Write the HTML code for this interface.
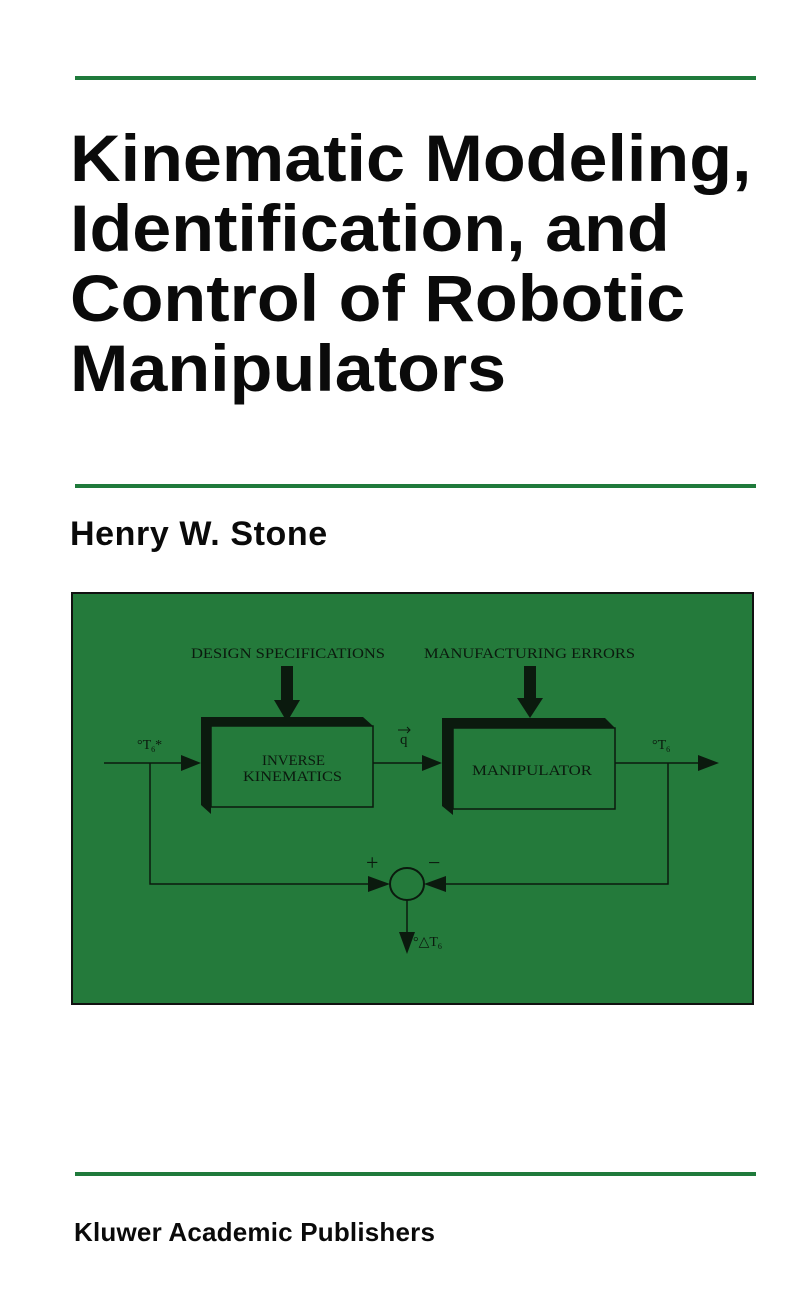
<!DOCTYPE html>
<html><head><style>
body{margin:0;width:800px;height:1312px;background:#fff;position:relative;overflow:hidden;font-family:"Liberation Sans",sans-serif}
.rule{position:absolute;left:75px;width:681px;height:4px;background:#1f7a3b}
.t{position:absolute;left:70px;font-weight:bold;color:#0a0a0a;white-space:nowrap}
</style></head><body>
<div class="rule" style="top:76px"></div>
<div class="t" style="top:123px;font-size:66px;line-height:70px;transform-origin:0 0;transform:scaleX(1.062)">Kinematic Modeling,<br>Identification, and<br>Control of Robotic<br>Manipulators</div>
<div class="rule" style="top:484px"></div>
<div class="t" style="top:515px;font-size:34px;letter-spacing:0.6px">Henry W. Stone</div>
<svg style="position:absolute;left:0;top:0" width="800" height="1312">
<rect x="72" y="593" width="681" height="411" fill="#247a3b" stroke="#111" stroke-width="2"/>
<g fill="#0b1a0e" stroke="#0b1a0e" font-family="Liberation Serif,serif" font-size="15">
<text x="191" y="658" textLength="194" lengthAdjust="spacingAndGlyphs" stroke="none">DESIGN SPECIFICATIONS</text>
<text x="424" y="658" textLength="211" lengthAdjust="spacingAndGlyphs" stroke="none">MANUFACTURING ERRORS</text>
<rect x="281" y="666" width="12" height="36" stroke="none"/>
<polygon points="274,700 300,700 287,722" stroke="none"/>
<rect x="524" y="666" width="12" height="34" stroke="none"/>
<polygon points="517,698 543,698 530,718" stroke="none"/>
<polygon points="201,717 363,717 373,726 211,726 211,814 201,805" stroke="none"/>
<rect x="211" y="726" width="162" height="81" fill="none" stroke-width="1.5"/>
<text x="262" y="765" textLength="63" lengthAdjust="spacingAndGlyphs" stroke="none">INVERSE</text>
<text x="243" y="781" textLength="99" lengthAdjust="spacingAndGlyphs" stroke="none">KINEMATICS</text>
<polygon points="442,718 605,718 615,728 453,728 453,815 442,806" stroke="none"/>
<rect x="453" y="728" width="162" height="81" fill="none" stroke-width="1.5"/>
<text x="472" y="775" textLength="120" lengthAdjust="spacingAndGlyphs" stroke="none">MANIPULATOR</text>
<g stroke-width="1.5" fill="none">
<line x1="104" y1="763" x2="190" y2="763"/>
<line x1="373" y1="763" x2="430" y2="763"/>
<line x1="615" y1="763" x2="700" y2="763"/>
<polyline points="150,763 150,884 380,884"/>
<polyline points="668,763 668,884 436,884"/>
<ellipse cx="407" cy="884" rx="17" ry="16" stroke-width="2"/>
<line x1="407" y1="900" x2="407" y2="935"/>
</g>
<polygon points="181,755 201,763 181,771" stroke="none"/>
<polygon points="422,755 442,763 422,771" stroke="none"/>
<polygon points="698,755 719,763 698,771" stroke="none"/>
<polygon points="368,876 390,884 368,892" stroke="none"/>
<polygon points="446,876 424,884 446,892" stroke="none"/>
<polygon points="399,932 415,932 407,954" stroke="none"/>
<text x="137" y="749" stroke="none" font-size="14">°T<tspan font-size="8" dy="3">6</tspan><tspan dy="-3">*</tspan></text>
<text x="652" y="749" stroke="none" font-size="14">°T<tspan font-size="8" dy="3">6</tspan></text>
<text x="400" y="744" stroke="none" font-size="15">q</text>
<line x1="398" y1="730" x2="410" y2="730" stroke-width="1"/>
<polyline points="407,727 410,730 407,733" fill="none" stroke-width="1"/>
<text x="366" y="870" stroke="none" font-size="22">+</text>
<text x="428" y="870" stroke="none" font-size="22">−</text>
<text x="413" y="946" stroke="none" font-size="14">°△T<tspan font-size="8" dy="3">6</tspan></text>
</g>
</svg>
<div class="rule" style="top:1172px"></div>
<div class="t" style="left:74px;top:1217px;font-size:26px;letter-spacing:0.2px">Kluwer Academic Publishers</div>
</body></html>
